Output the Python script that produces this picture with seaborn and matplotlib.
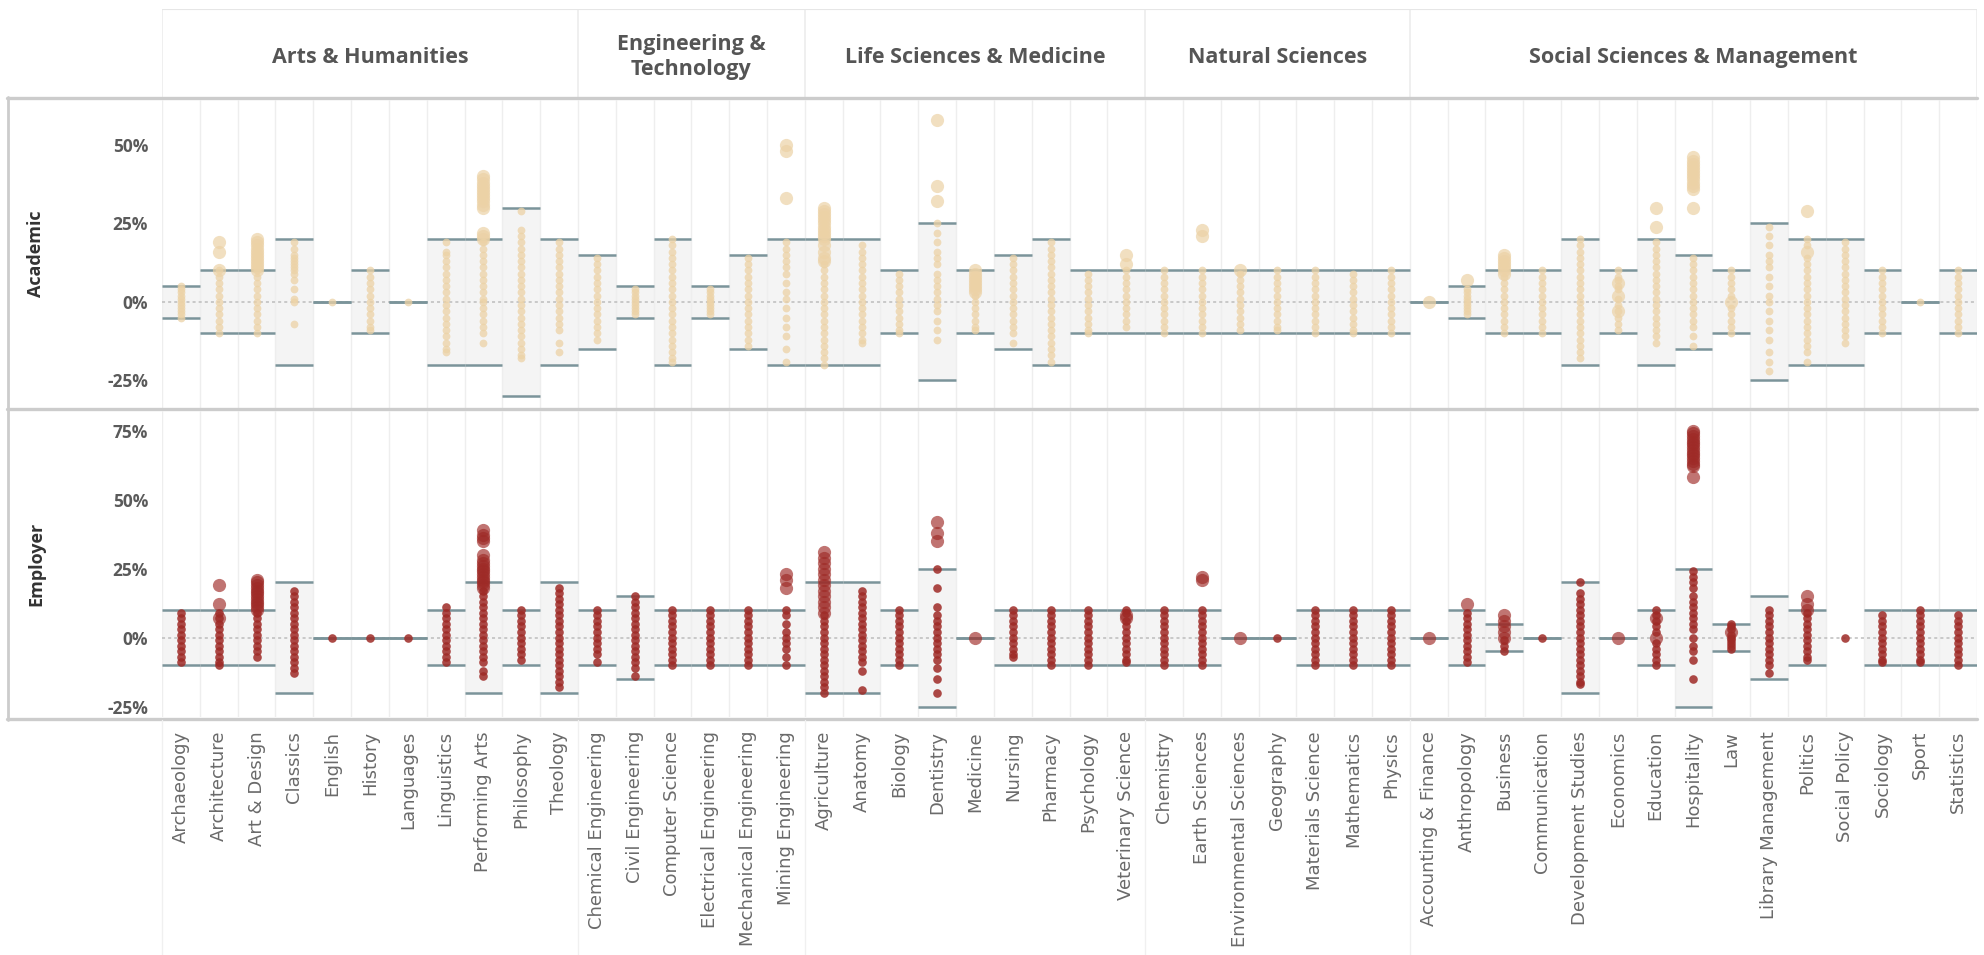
import matplotlib.pyplot as plt
import seaborn as sns
import numpy as np
import pandas as pd
from matplotlib.lines import Line2D

nan = np.nan

groups = ["Arts & Humanities", "Engineering &\nTechnology", "Life Sciences & Medicine",
          "Natural Sciences", "Social Sciences & Management"]
group_sizes = [11, 6, 9, 7, 15]

subjects = [
    "Archaeology", "Architecture", "Art & Design", "Classics", "English", "History",
    "Languages", "Linguistics", "Performing Arts", "Philosophy", "Theology",
    "Chemical Engineering", "Civil Engineering", "Computer Science",
    "Electrical Engineering", "Mechanical Engineering", "Mining Engineering",
    "Agriculture", "Anatomy", "Biology", "Dentistry", "Medicine", "Nursing",
    "Pharmacy", "Psychology", "Veterinary Science",
    "Chemistry", "Earth Sciences", "Environmental Sciences", "Geography",
    "Materials Science", "Mathematics", "Physics",
    "Accounting & Finance", "Anthropology", "Business", "Communication",
    "Development Studies", "Economics", "Education", "Hospitality", "Law",
    "Library Management", "Politics", "Social Policy", "Sociology", "Sport", "Statistics",
]

# half width of the grey range band (band goes from -b to +b), in %
academic_band = [5, 10, 10, 20, 0, 10, 0, 20, 20, 30, 20,
                 15, 5, 20, 5, 15, 20,
                 20, 20, 10, 25, 10, 15, 20, 10, 10,
                 10, 10, 10, 10, 10, 10, 10,
                 0, 5, 10, 10, 20, 10, 20, 15, 10, 25, 20, 20, 10, 0, 10]
employer_band = [10, 10, 10, 20, 0, 0, 0, 10, 20, 10, 20,
                 10, 15, 10, 10, 10, 10,
                 20, 20, 10, 25, 0, 10, 10, 10, 10,
                 10, 10, 0, 0, 10, 10, 10,
                 0, 10, 5, 0, 20, 0, 10, 25, 5, 15, 10, nan, 10, 10, 10]

# change values (%) per subject, small marks
academic_small = [
    [-5, -4, -3, -2, -1, 0, 1, 2, 3, 4, 5],
    [-10, -8, -6, -4, -2, 0, 2, 4, 6, 8, 10],
    [-10, -8, -6, -4, -2, 0, 2, 4, 6, 8, 10],
    [19, 17, 15, 14, 13, 12, 11, 10, 9, 7, 4, 1, 0, -7],
    [0],
    [-9, -8, -6, -4, -2, 0, 2, 4, 6, 8, 10],
    [0],
    [19, 16, 15, 13, 11, 9, 7, 5, 3, 1, -1, -3, -5, -7, -9, -11, -13, -15, -16],
    [19, 17, 15, 13, 11, 9, 7, 5, 3, 1, 0, -2, -4, -6, -8, -10, -13],
    [29, 23, 21, 19, 17, 15, 13, 11, 9, 7, 5, 3, 1, -1, -3, -5, -7, -9, -11, -13, -15, -17, -18],
    [19, 17, 15, 13, 11, 9, 7, 5, 3, 1, -1, -3, -5, -7, -9, -13, -16],
    [14, 12, 10, 8, 6, 4, 2, 0, -2, -4, -6, -8, -10, -12],
    [4, 3, 2, 1, 0, -1, -2, -3, -4],
    [20, 18, 16, 14, 12, 10, 8, 6, 4, 2, 0, -2, -4, -6, -8, -10, -12, -14, -16, -18, -19],
    [4, 3, 2, 1, 0, -1, -2, -3, -4],
    [14, 12, 10, 8, 6, 4, 2, 0, -2, -4, -6, -8, -10, -12, -14],
    [19, 17, 15, 13, 11, 9, 6, 3, 1, -2, -5, -8, -11, -15, -19],
    [-20, -18, -16, -14, -12, -10, -8, -6, -4, -2, 0, 2, 4, 6, 8, 10, 12],
    [18, 16, 14, 12, 10, 8, 6, 4, 2, 0, -2, -4, -6, -8, -10, -12, -13],
    [9, 7, 5, 3, 1, -1, -3, -5, -7, -9, -10],
    [25, 22, 19, 16, 14, 12, 9, 7, 5, 3, 1, -1, -3, -6, -9, -12],
    [2, 0, -2, -4, -6, -8, -9],
    [14, 12, 10, 8, 6, 4, 2, 0, -2, -4, -6, -8, -10, -13],
    [19, 17, 15, 13, 11, 9, 7, 5, 3, 1, -1, -3, -5, -7, -9, -11, -13, -15, -17, -19],
    [9, 7, 5, 3, 1, -1, -3, -5, -7, -9, -10],
    [10, 8, 6, 4, 2, 0, -2, -4, -6, -8],
    [10, 8, 6, 4, 2, 0, -2, -4, -6, -8, -10],
    [10, 8, 6, 4, 2, 0, -2, -4, -6, -8, -10],
    [9, 7, 5, 3, 1, -1, -3, -5, -7, -9],
    [10, 8, 6, 4, 2, 0, -2, -4, -6, -8, -9],
    [10, 8, 6, 4, 2, 0, -2, -4, -6, -8, -10],
    [9, 7, 5, 3, 1, -1, -3, -5, -7, -9, -10],
    [10, 8, 6, 4, 2, 0, -2, -4, -6, -8, -10],
    [],
    [4, 3, 2, 1, 0, -1, -2, -3, -4],
    [8, 6, 4, 2, 0, -2, -4, -6, -8, -10],
    [10, 8, 6, 4, 2, 0, -2, -4, -6, -8, -10],
    [20, 18, 16, 14, 12, 10, 8, 6, 4, 2, 0, -2, -4, -6, -8, -10, -12, -14, -16, -18],
    [10, 8, 7, 5, 4, 1, -1, -3, -5, -7, -9],
    [19, 17, 15, 13, 11, 9, 7, 5, 3, 1, -1, -3, -5, -7, -9, -11, -13],
    [14, 12, 10, 8, 6, 4, 2, 0, -2, -4, -6, -8, -11, -14],
    [10, 8, 6, 4, 2, -2, -4, -6, -8, -10],
    [24, 21, 18, 15, 13, 11, 8, 5, 2, 0, -3, -6, -9, -12, -16, -19, -22],
    [20, 18, 14, 12, 10, 8, 6, 4, 2, 0, -2, -4, -6, -8, -10, -12, -14, -16, -19],
    [19, 17, 15, 13, 11, 9, 7, 5, 3, 1, -1, -3, -5, -7, -9, -11, -13],
    [10, 8, 6, 4, 2, 0, -2, -4, -6, -8, -10],
    [0],
    [10, 8, 6, 4, 2, 0, -2, -4, -6, -8, -10],
]

# larger marks (outliers / bigger institutions)
academic_big = [
    [], [10, 16, 19], [10, 11, 12, 13, 14, 15, 16, 17, 18, 19, 20], [], [], [], [], [],
    [20, 21, 22, 30, 31, 32, 33, 34, 35, 36, 37, 38, 39, 40], [], [],
    [], [], [], [], [], [33, 48, 50],
    [13, 14, 16, 18, 20, 21, 22, 23, 24, 25, 26, 27, 28, 29, 30], [], [], [32, 37, 58],
    [3, 4, 5, 6, 7, 8, 9, 10], [], [], [], [12, 15],
    [], [21, 23], [10], [], [], [], [],
    [0], [7], [9, 10, 11, 12, 13, 14, 15], [], [], [6, 2, -3], [24, 30],
    [30, 36, 37, 38, 39, 40, 41, 42, 43, 44, 45, 46], [0], [], [29, 16], [], [], [], [],
]

employer_small = [
    [9, 7, 5, 3, 1, -1, -3, -5, -7, -9],
    [9, 7, 5, 3, 1, -1, -3, -5, -7, -9, -10],
    [9, 7, 5, 3, 1, -1, -3, -5, -7],
    [17, 15, 13, 11, 9, 7, 5, 3, 1, -1, -3, -5, -7, -9, -11, -13],
    [0], [0], [0],
    [11, 9, 7, 5, 3, 1, -1, -3, -5, -7, -9],
    [17, 15, 13, 11, 9, 7, 5, 3, 1, -1, -3, -5, -7, -9, -12, -14],
    [10, 8, 6, 4, 2, 0, -2, -4, -6, -8],
    [18, 16, 14, 12, 10, 8, 6, 4, 2, 0, -2, -4, -6, -8, -10, -12, -14, -16, -18],
    [10, 8, 6, 4, 2, 0, -2, -4, -6, -9],
    [15, 13, 11, 9, 7, 5, 3, 1, -1, -3, -5, -7, -9, -11, -14],
    [10, 8, 6, 4, 2, 0, -2, -4, -6, -8, -10],
    [10, 8, 6, 4, 2, 0, -2, -4, -6, -8, -10],
    [10, 8, 6, 4, 2, 0, -2, -4, -6, -8, -10],
    [10, 8, 5, 2, 0, -2, -4, -7, -10],
    [8, 6, 4, 2, 0, -2, -4, -6, -8, -10, -12, -14, -16, -18, -20],
    [17, 15, 13, 11, 9, 7, 5, 3, 1, -1, -3, -5, -7, -9, -12, -19],
    [10, 8, 6, 4, 2, 0, -2, -4, -6, -8, -10],
    [25, 18, 11, 8, 6, 4, 2, 0, -2, -4, -6, -8, -11, -15, -20],
    [],
    [10, 8, 6, 4, 2, 0, -2, -4, -6, -7],
    [10, 8, 6, 4, 2, 0, -2, -4, -6, -8, -10],
    [10, 8, 6, 4, 2, 0, -2, -4, -6, -8, -10],
    [10, 9, 6, 4, 2, 0, -2, -4, -6, -8, -9],
    [10, 8, 6, 4, 2, 0, -2, -4, -6, -8, -10],
    [10, 8, 6, 4, 2, 0, -2, -4, -6, -8, -10],
    [],
    [0],
    [10, 8, 6, 4, 2, 0, -2, -4, -6, -8, -10],
    [10, 8, 6, 4, 2, 0, -2, -4, -6, -8, -10],
    [10, 8, 6, 4, 2, 0, -2, -4, -6, -8, -10],
    [],
    [9, 7, 5, 3, 1, -1, -3, -5, -7, -9],
    [-1, -3, -5],
    [0],
    [20, 16, 14, 12, 10, 8, 6, 4, 2, 0, -2, -4, -6, -8, -10, -12, -14, -16, -17],
    [],
    [10, 8, 6, 4, 2, -2, -4, -6, -8, -10],
    [24, 22, 20, 18, 15, 13, 11, 9, 7, 5, 3, 0, -3, -5, -8, -15],
    [5, 4, 3, 1, 0, -1, -2, -3, -4],
    [10, 8, 6, 4, 2, 0, -2, -4, -6, -8, -10, -13],
    [9, 7, 5, 3, 1, -1, -3, -5, -7, -8],
    [0],
    [8, 6, 4, 2, 0, -2, -4, -6, -8, -9],
    [10, 8, 6, 4, 2, 0, -2, -4, -6, -8, -9],
    [8, 6, 4, 2, 0, -2, -4, -6, -8, -10],
]

employer_big = [
    [], [7, 12, 19], [10, 11, 12, 13, 14, 15, 16, 17, 18, 19, 20, 21], [], [], [], [], [],
    [18, 19, 20, 21, 22, 23, 24, 25, 26, 27, 28, 30, 35, 36, 37, 39], [], [],
    [], [], [], [], [], [18, 21, 23],
    [9, 11, 13, 15, 17, 19, 21, 23, 25, 27, 29, 31], [], [], [35, 38, 42], [0], [], [], [], [7, 8],
    [], [21, 22], [0], [], [], [], [],
    [0], [12], [0, 2, 4, 6, 8], [], [], [0], [7, 0],
    [58, 62, 63, 64, 65, 66, 67, 68, 69, 70, 71, 72, 73, 74, 75], [2], [], [10, 12, 15],
    [], [], [], [],
]

# ---------------------------------------------------------------------------
rows = []
for metric, small, big in [("Academic", academic_small, academic_big),
                           ("Employer", employer_small, employer_big)]:
    for subj, s_vals, b_vals in zip(subjects, small, big):
        for v in s_vals:
            rows.append((metric, subj, v, "small"))
        for v in b_vals:
            rows.append((metric, subj, v, "big"))
df = pd.DataFrame(rows, columns=["metric", "subject", "value", "kind"])

sns.set_style("white")
plt.rcParams["font.family"] = ["Open Sans", "DejaVu Sans"]

W, H = 1984, 955
fig = plt.figure(figsize=(W / 100, H / 100), dpi=100)


def box(x0, y0, x1, y1):
    return [x0 / W, 1 - y1 / H, (x1 - x0) / W, (y1 - y0) / H]


ax_head = fig.add_axes(box(162, 9, 1977, 97))
ax_a = fig.add_axes(box(162, 100, 1977, 408))
ax_e = fig.add_axes(box(162, 411, 1977, 717))

n = len(subjects)
xpos = np.arange(n)
edges = np.cumsum([0] + group_sizes) - 0.5

panels = [
    (ax_a, "Academic", np.array(academic_band, float), (-33.8, 64.3), [-25, 0, 25, 50],
     "#ecd2a6", 0.75, 0.7, 5.6),
    (ax_e, "Employer", np.array(employer_band, float), (-28.8, 82.1), [-25, 0, 25, 50, 75],
     "#9e2a26", 0.85, 0.65, 6.2),
]

for ax, metric, band, ylim, ticks, color, a_small, a_big, s_small in panels:
    ok = ~np.isnan(band)
    ax.bar(xpos[ok], 2 * band[ok], bottom=-band[ok], width=1.0, color="#f4f4f4",
           linewidth=0, zorder=0)
    ax.vlines(np.arange(-0.5, n, 1), ylim[0], ylim[1], color="#eeeeee", lw=1, zorder=0.5)
    ax.axhline(0, color="#bdbdbd", lw=1.1, ls=(0, (2, 2)), zorder=1)
    for sign in (1, -1):
        ax.hlines(sign * band[ok], xpos[ok] - 0.5, xpos[ok] + 0.5, color="#7b949a",
                  lw=1.8, zorder=2)
    sub = df[df.metric == metric]
    sns.stripplot(data=sub[sub.kind == "small"], x="subject", y="value", order=subjects,
                  jitter=False, size=s_small, color=color, alpha=a_small, linewidth=0,
                  ax=ax, zorder=3)
    sns.stripplot(data=sub[sub.kind == "big"], x="subject", y="value", order=subjects,
                  jitter=False, size=9.5, color=color, alpha=a_big, linewidth=0,
                  ax=ax, zorder=4)
    ax.set_xlim(-0.5, n - 0.5)
    ax.set_ylim(*ylim)
    ax.set_yticks(ticks)
    ax.set_yticklabels([f"{t}%" for t in ticks], fontweight="bold", color="#5a5a5a",
                       fontsize=12.5)
    ax.tick_params(axis="y", length=0, pad=10)
    ax.set_xlabel("")
    ax.set_ylabel("")
    for sp in ax.spines.values():
        sp.set_visible(False)

ax_a.set_xticks([])
ax_e.set_xticks(xpos)
ax_e.set_xticklabels(subjects, rotation=90, fontsize=13, color="#6a6a6a",
                     fontfamily="DejaVu Sans")
ax_e.tick_params(axis="x", length=0, pad=10)

# header strip with the broad subject areas
ax_head.set_xlim(-0.5, n - 0.5)
ax_head.set_ylim(0, 1)
ax_head.axis("off")
ax_head.vlines(edges, 0, 1, color="#ececec", lw=1.2)
ax_head.axhline(1, color="#e6e6e6", lw=1.5)
for g, lo, hi in zip(groups, edges[:-1], edges[1:]):
    ax_head.text((lo + hi) / 2, 0.45, g, ha="center", va="center", fontsize=15.5,
                 fontweight="bold", color="#555555", linespacing=1.25)

# row labels
fig.text(36 / W, 1 - 254 / H, "Academic", rotation=90, ha="center", va="center",
         fontsize=13, fontweight="bold", color="#333333")
fig.text(36 / W, 1 - 564 / H, "Employer", rotation=90, ha="center", va="center",
         fontsize=13, fontweight="bold", color="#333333")

# frame lines
def fline(x0, y0, x1, y1, color, lw):
    fig.add_artist(Line2D([x0 / W, x1 / W], [1 - y0 / H, 1 - y1 / H],
                          transform=fig.transFigure, color=color, lw=lw))


for y in (98.5, 409.5, 718.5):
    fline(7, y, 1977, y, "#cccccc", 2.4)
fline(8, 97, 8, 720, "#cccccc", 2.0)
for e in edges[:-1]:
    xe = 162 + (e + 0.5) / n * (1977 - 162)
    fline(xe, 720, xe, 955, "#f0f0f0", 1.0)

fig.savefig("out.png", dpi=100)
